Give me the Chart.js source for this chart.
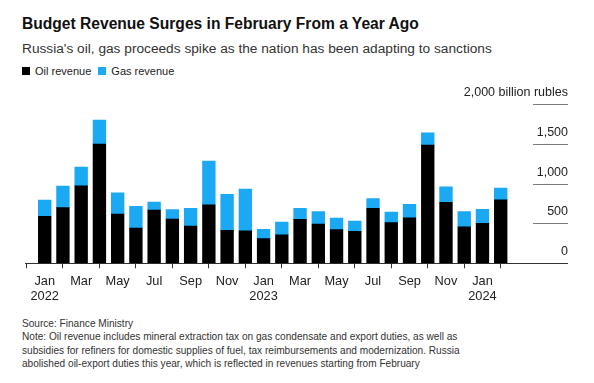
<!DOCTYPE html>
<html>
<head>
<meta charset="utf-8">
<script src="https://cdn.jsdelivr.net/npm/chart.js@4"></script>
<style>
  body { margin: 0; background: #fff; font-family: "Liberation Sans", Arial, sans-serif; color: #222; }
  #wrap { position: relative; width: 594px; height: 383px; overflow: hidden; }
  .title { position: absolute; left: 22px; top: 15px; font-size: 15.6px; font-weight: bold; color: #111; }
  .subtitle { position: absolute; left: 22px; top: 41px; font-size: 13.7px; color: #333; }
  .legend { position: absolute; left: 22px; top: 65px; font-size: 11px; color: #222; }
  .legend span.sw { display: inline-block; width: 8px; height: 8px; margin-right: 5px; vertical-align: 0px; }
  .legend span.item { margin-right: 4px; }
  .foot { position: absolute; left: 22px; top: 317px; font-size: 10.1px; line-height: 13.3px; color: #333; }
  #chartBox { position: absolute; left: 0; top: 80px; width: 594px; height: 230px; }
</style>
</head>
<body>
<div id="wrap">
  <div class="title">Budget Revenue Surges in February From a Year Ago</div>
  <div class="subtitle">Russia's oil, gas proceeds spike as the nation has been adapting to sanctions</div>
  <div class="legend">
    <span class="item"><span class="sw" style="background:#000"></span>Oil revenue</span>
    <span class="item"><span class="sw" style="background:#1aa9f2"></span>Gas revenue</span>
  </div>
  <div id="chartBox"><canvas id="revChart"></canvas></div>
  <div class="foot">
    Source: Finance Ministry<br>
    Note: Oil revenue includes mineral extraction tax on gas condensate and export duties, as well as<br>
    subsidies for refiners for domestic supplies of fuel, tax reimbursements and modernization. Russia<br>
    abolished oil-export duties this year, which is reflected in revenues starting from February
  </div>
</div>
<script>
// monthly, Jan 2022 - Feb 2024, billion rubles
const months = ["Jan", "Feb", "Mar", "Apr", "May", "Jun", "Jul", "Aug", "Sep", "Oct", "Nov", "Dec",
  "Jan", "Feb", "Mar", "Apr", "May", "Jun", "Jul", "Aug", "Sep", "Oct", "Nov", "Dec",
  "Jan", "Feb"];
const years = ["2022", "", "", "", "", "", "", "", "", "", "", "",
  "2023", "", "", "", "", "", "", "", "", "", "", "",
  "2024", ""];
const oilRevenue = [590, 698, 974, 1497, 619, 443, 669, 556, 468, 735, 414, 409,
  309, 359, 552, 493, 422, 402, 690, 510, 572, 1485, 766, 459, 502, 798];
const gasRevenue = [204, 272, 235, 301, 267, 272, 100, 117, 222, 549, 452, 523,
  118, 159, 138, 155, 147, 129, 121, 134, 168, 154, 195, 189, 176, 147];
const yTickValues = [0, 500, 1000, 1500, 2000];
const yTickLabels = ["0", "500", "1,000", "1,500", "2,000 billion rubles"];

const xTicks = months.map((m, i) => i).filter(i => i % 2 === 0);
const padRight = 26;
const tickLen = 35;

// short grid lines under the right-hand labels, placed with the y scale
const yTickLines = {
  id: "yTickLines",
  afterDraw(chart) {
    const y = chart.scales.y;
    const c = chart.ctx;
    const xEnd = chart.width - padRight;
    c.save();
    yTickValues.forEach(v => {
      const py = Math.round(y.getPixelForValue(v));
      c.fillStyle = v === 0 ? "#333333" : "#7a7a7a";
      c.fillRect(xEnd - tickLen, py, tickLen, 1);
    });
    c.restore();
  },
};

const ctx = document.getElementById("revChart").getContext("2d");
const chart = new Chart(ctx, {
  type: "bar",
  data: {
    datasets: [
      { label: "Oil revenue", data: oilRevenue.map((v, i) => ({ x: i, y: v })), backgroundColor: "#000000", barThickness: 12.7 },
      { label: "Gas revenue", data: gasRevenue.map((v, i) => ({ x: i, y: v })), backgroundColor: "#1aa9f2", barThickness: 12.7 },
    ],
  },
  plugins: [yTickLines],
  options: {
    responsive: true,
    maintainAspectRatio: false,
    animation: false,
    layout: { padding: { left: 25, right: padRight, top: 24, bottom: 0 } },
    plugins: { legend: { display: false }, tooltip: { enabled: false } },
    scales: {
      x: {
        type: "linear",
        stacked: true,
        bounds: "data",
        offset: false,
        min: -1.08,
        max: 26.77,
        afterBuildTicks: scale => { scale.ticks = xTicks.map(v => ({ value: v })); },
        afterFit: scale => { scale.height = 46.7; },
        grid: { drawOnChartArea: false, drawTicks: true, tickLength: 5, color: "#333" },
        border: { display: true, color: "#333", width: 1 },
        ticks: {
          autoSkip: false,
          maxRotation: 0,
          padding: 6,
          color: "#222",
          font: { family: "Liberation Sans", size: 12.8, lineHeight: 1.17 },
          callback: v => years[v] ? [months[v], years[v]] : months[v],
        },
      },
      y: {
        position: "right",
        stacked: true,
        min: 0,
        max: 2000,
        afterBuildTicks: scale => { scale.ticks = yTickValues.map(v => ({ value: v })); },
        afterFit: scale => {
          scale.width = tickLen;
          // let the long top label run left of the axis box
          scale._computeLabelArea = () => null;
        },
        grid: { display: false },
        border: { display: false },
        ticks: {
          crossAlign: "far",
          labelOffset: -11.5,
          padding: 0,
          color: "#222",
          font: { family: "Liberation Sans", size: 12.5 },
          callback: v => yTickLabels[yTickValues.indexOf(v)],
        },
      },
    },
  },
});
</script>
</body>
</html>
